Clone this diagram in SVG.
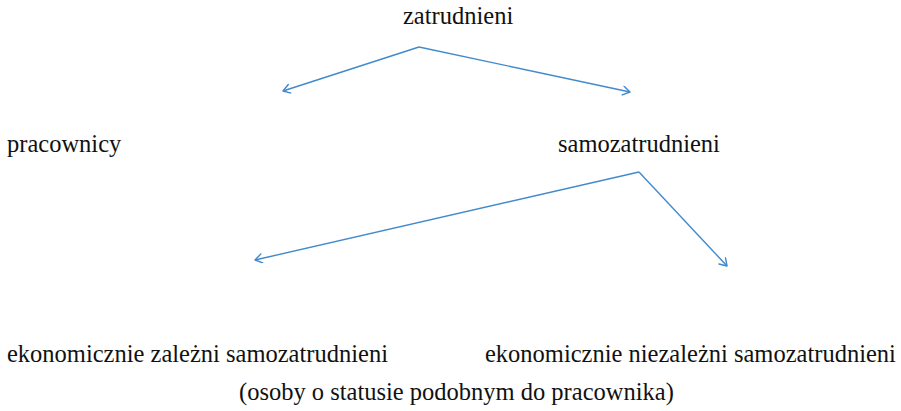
<svg xmlns="http://www.w3.org/2000/svg" width="901" height="411" viewBox="0 0 901 411">
  <style>
    .lbl { font-family: "Liberation Serif", "Times New Roman", serif; font-size: 24.5px; fill: #111111; }
    .conn { stroke: #418acc; stroke-width: 1.4; fill: none; marker-end: url(#arr); }
  </style>
  <defs>
    <marker id="arr" markerUnits="userSpaceOnUse" markerWidth="12" markerHeight="12" refX="9" refY="5" orient="auto">
      <path d="M2,0.5 L9,5 L2,9.5" fill="none" stroke="#418acc" stroke-width="1.4" stroke-linecap="round" stroke-linejoin="round"/>
    </marker>
  </defs>
  <rect width="901" height="411" fill="#ffffff"/>
  <g id="connectors">
    <line class="conn" x1="419" y1="47" x2="283" y2="91"/>
    <line class="conn" x1="419" y1="47" x2="630" y2="92"/>
    <line class="conn" x1="639" y1="172" x2="255" y2="260"/>
    <line class="conn" x1="639" y1="172" x2="727" y2="266"/>
  </g>
  <g id="zatrudnieni"><text class="lbl" x="403" y="24">zatrudnieni</text></g>
  <g id="pracownicy"><text class="lbl" x="7" y="152">pracownicy</text></g>
  <g id="samozatrudnieni"><text class="lbl" x="558" y="152">samozatrudnieni</text></g>
  <g id="zalezni"><text class="lbl" x="7" y="362">ekonomicznie zależni samozatrudnieni</text></g>
  <g id="niezalezni"><text class="lbl" x="485" y="362">ekonomicznie niezależni samozatrudnieni</text></g>
  <g id="note"><text class="lbl" x="239" y="400">(osoby o statusie podobnym do pracownika)</text></g>
</svg>
